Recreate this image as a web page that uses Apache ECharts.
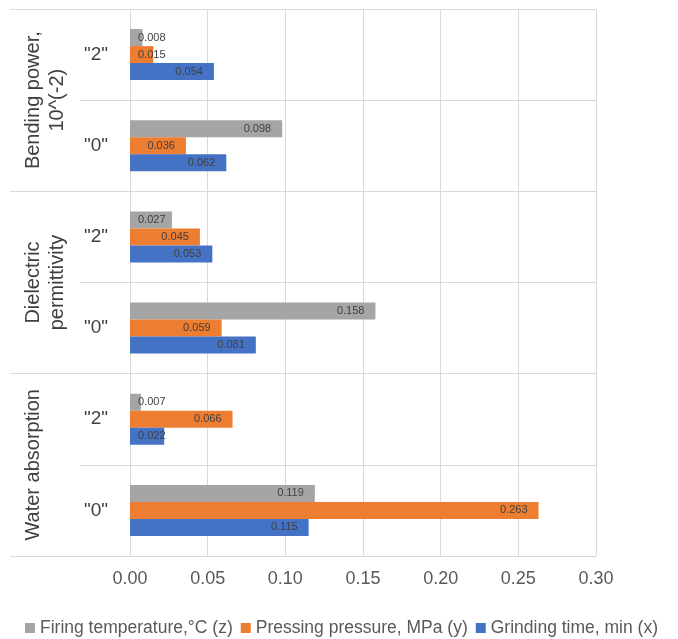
<!DOCTYPE html>
<html>
<head>
<meta charset="utf-8">
<script src="https://cdn.jsdelivr.net/npm/echarts@6/dist/echarts.min.js"></script>
<style>html,body{margin:0;padding:0;background:#fff}#c{width:678px;height:639px}</style>
</head>
<body>
<div id="c"></div>
<script>
// categories listed bottom to top
const subCategories = ['"0"', '"2"', '"0"', '"2"', '"0"', '"2"'];
const groupCategories = ['Water absorption', 'Dielectric\npermittivity', 'Bending power,\n10^(-2)'];
const seriesNames = ['Firing temperature,°C (z)', 'Pressing pressure, MPa (y)', 'Grinding time, min (x)'];
const firingTemp = [0.119, 0.007, 0.158, 0.027, 0.098, 0.008];
const pressingPressure = [0.263, 0.066, 0.059, 0.045, 0.036, 0.015];
const grindingTime = [0.115, 0.022, 0.081, 0.053, 0.062, 0.054];
const xTicks = [0, 0.05, 0.10, 0.15, 0.20, 0.25, 0.30];
const colors = ['#a5a5a5', '#ed7d31', '#4472c4'];

const FONT = '"Liberation Sans", Arial, sans-serif';

function buildData(arr) {
  return arr.map(v => ({
    value: v,
    label: v < 0.032 ? { position: 'insideLeft', distance: 8 } : { position: 'insideRight', distance: 11 }
  }));
}

const allSeries = [firingTemp, pressingPressure, grindingTime].map((arr, i) => ({
  name: seriesNames[i],
  type: 'bar',
  yAxisIndex: 0,
  data: buildData(arr),
  barGap: '0%',
  barCategoryGap: '44%',
  itemStyle: { color: colors[i] },
  label: {
    show: true,
    fontFamily: FONT,
    fontSize: 11,
    color: '#404040',
    formatter: p => p.value.toFixed(3)
  }
}));

const chart = echarts.init(document.getElementById('c'), null, { renderer: 'canvas' });
chart.setOption({
  animation: false,
  backgroundColor: '#ffffff',
  textStyle: { fontFamily: FONT },
  grid: { left: 130, right: 82, top: 9, bottom: 83, containLabel: false, outerBoundsMode: 'none' },
  legend: {
    data: seriesNames,
    left: 20,
    top: 614,
    icon: 'rect',
    itemWidth: 10,
    itemHeight: 10,
    itemGap: 8,
    textStyle: { fontFamily: FONT, fontSize: 17.5, color: '#595959' }
  },
  xAxis: {
    type: 'value',
    min: xTicks[0],
    max: xTicks[xTicks.length - 1],
    interval: 0.05,
    axisLine: { show: false },
    axisTick: { show: false },
    splitLine: { show: true, lineStyle: { color: '#d9d9d9', width: 1 } },
    axisLabel: {
      fontFamily: FONT, fontSize: 18, color: '#595959', margin: 14,
      formatter: v => v.toFixed(2)
    }
  },
  yAxis: [
    {
      type: 'category',
      position: 'left',
      data: subCategories,
      axisLine: { show: false },
      axisTick: { show: true, length: 50, lineStyle: { color: '#d9d9d9' } },
      splitLine: { show: true, lineStyle: { color: '#d9d9d9' } },
      axisLabel: { interval: 0, fontFamily: FONT, fontSize: 19, color: '#404040', margin: 22 }
    },
    {
      type: 'category',
      position: 'left',
      offset: 0,
      data: groupCategories,
      axisLine: { show: false },
      axisTick: { show: true, length: 120, lineStyle: { color: '#d9d9d9' } },
      splitLine: { show: false },
      axisLabel: {
        interval: 0, rotate: 90, fontFamily: FONT, fontSize: 20, lineHeight: 24,
        color: '#404040', margin: 109, align: 'center', verticalAlign: 'top'
      }
    }
  ],
  series: allSeries
});
</script>
</body>
</html>
